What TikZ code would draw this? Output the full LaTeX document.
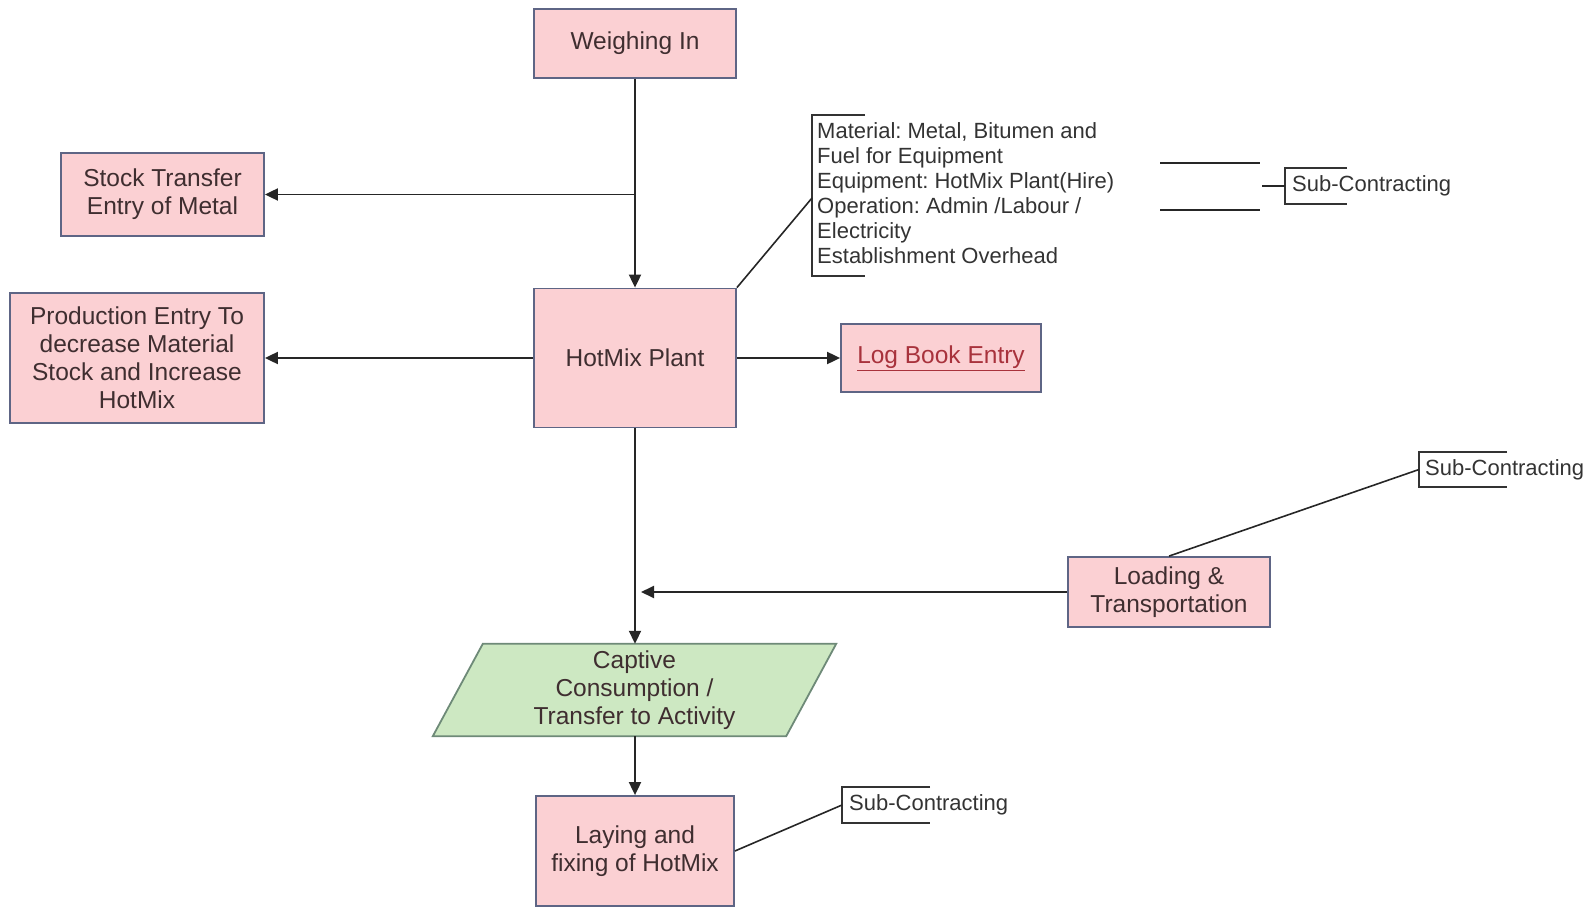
\documentclass[tikz,border=0pt]{standalone}
\usepackage{fontspec}
\setmainfont{Liberation Sans}
\frenchspacing
\usetikzlibrary{arrows.meta,calc}
\definecolor{boxfill}{HTML}{FBD0D3}
\definecolor{boxline}{HTML}{5E6585}
\definecolor{parafill}{HTML}{CDE8C2}
\definecolor{paraline}{HTML}{6E8A78}
\definecolor{txt}{HTML}{3F2E30}
\definecolor{note}{HTML}{333333}
\definecolor{wire}{HTML}{262626}
\definecolor{linkred}{HTML}{A8323C}
\begin{document}
\begin{tikzpicture}[x=1pt,y=-1pt,
  every node/.style={font=\fontsize{24.5}{28}\selectfont, text=txt, align=center},
  box/.style={draw=boxline, fill=boxfill, line width=1.8pt, inner sep=2pt},
  arr/.style={draw=wire, line width=1.9pt, -{Triangle[length=13pt,width=12pt]}},
  wireline/.style={draw=wire, line width=1.6pt},
  bracket/.style={draw=note, line width=1.8pt},
  small/.style={font=\fontsize{22}{25}\selectfont, text=note, align=left, inner sep=0pt}
]
\useasboundingbox (0,0) rectangle (1595,909);

% main process boxes
\node[box, minimum width=202pt, minimum height=69pt] (weigh) at (635,43.5) {Weighing In};
\node[box, minimum width=203pt, minimum height=83pt] (stock) at (162.5,194.5) {Stock Transfer\\Entry of Metal};
\node[box, minimum width=254pt, minimum height=130pt] (prod) at (137,358) {Production Entry To\\decrease Material\\Stock and Increase\\HotMix};
\node[box, minimum width=202pt, minimum height=139pt] (hot) at (635,358) {HotMix Plant};
\node[box, minimum width=200pt, minimum height=68pt] (log) at (941,358)
  {\color{linkred}\underline{Log Book Entry}};
\node[box, minimum width=202pt, minimum height=70pt] (load) at (1169,592) {Loading \&\\Transportation};
\node[box, minimum width=198pt, minimum height=110pt] (lay) at (635,851) {Laying and\\fixing of HotMix};

% captive consumption (parallelogram)
\node[minimum width=403pt, minimum height=92pt, inner sep=0pt] (cap) at (634.5,690) {};
\draw[draw=paraline, fill=parafill, line width=1.8pt]
  ($(cap.north west)+(50,0)$) -- (cap.north east) -- ($(cap.south east)+(-50,0)$)
  -- (cap.south west) -- cycle;
\node at (cap.center) {Captive\\Consumption /\\Transfer to Activity};

% flow connectors
\draw[arr] (weigh.south) -- (hot.north);
\coordinate (br) at (stock.east -| weigh.south);
\draw[arr] (br) -- (stock.east);
\draw[arr] (hot.west) -- (prod.east |- hot.west);
\draw[arr] (hot.east) -- (log.west);
\draw[arr] (hot.south) -- (cap.north -| hot.south);
\coordinate (join) at (641,592);
\draw[arr] (load.west) -- (join);
\draw[arr] (cap.south -| hot.south) -- (lay.north);

% cost elements of the plant
\node[small, anchor=north west] (mat) at (817,122)
  {Material: Metal, Bitumen and\\Fuel for Equipment\\Equipment: HotMix Plant(Hire)\\Operation: Admin /Labour /\\Electricity\\Establishment Overhead};
\coordinate (mt) at (812,115);
\coordinate (mb) at (812,276);
\coordinate (mm) at (812,198);
\draw[bracket] (865,115) -- (mt) -- (mb) -- (865,276);
\draw[wireline] (hot.north east) -- (mm);

% sub-contracting for hire items
\draw[wireline] (1160,163) -- (1260,163);
\draw[wireline] (1160,210) -- (1260,210);
\node[small, anchor=west, minimum height=36pt, inner xsep=7pt] (sc1) at (1285,186) {Sub-Contracting};
\draw[bracket] ($(sc1.north west)+(62,0)$) -- (sc1.north west) -- (sc1.south west) -- ($(sc1.south west)+(62,0)$);
\coordinate (sc1in) at (1262,186);
\draw[wireline] (sc1in) -- (sc1.west);

% sub-contracting for transportation
\node[small, anchor=west, minimum height=34pt, inner xsep=6pt] (sc2) at (1419,469.5) {Sub-Contracting};
\draw[bracket] ($(sc2.north west)+(88,0)$) -- (sc2.north west) -- (sc2.south west) -- ($(sc2.south west)+(88,0)$);
\draw[wireline] (load.north) -- (sc2.west);

% sub-contracting for laying
\node[small, anchor=west, minimum height=35pt, inner xsep=7pt] (sc3) at (842,805) {Sub-Contracting};
\draw[bracket] ($(sc3.north west)+(88,0)$) -- (sc3.north west) -- (sc3.south west) -- ($(sc3.south west)+(88,0)$);
\draw[wireline] (lay.east) -- (sc3.west);
\end{tikzpicture}
\end{document}
